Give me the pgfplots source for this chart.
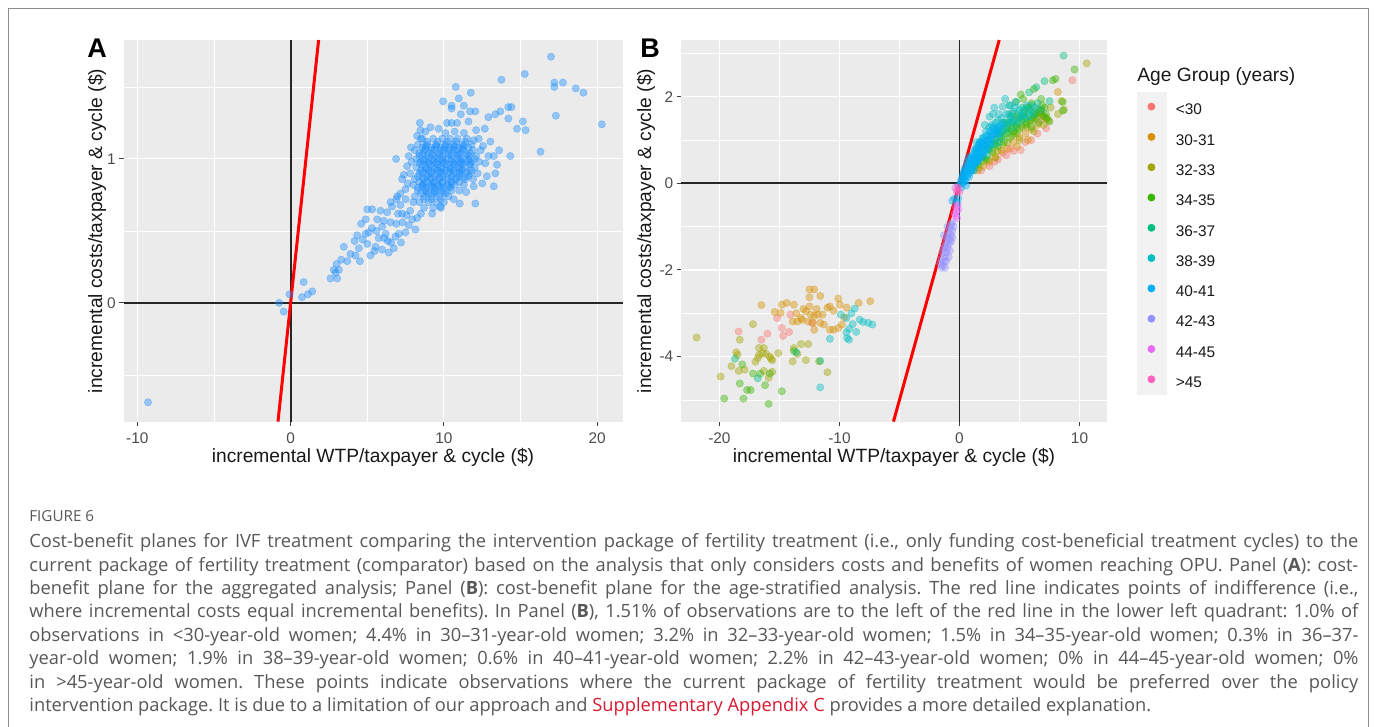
\documentclass[border=0pt]{standalone}
\usepackage{fontspec}
\setmainfont{Liberation Sans}
\newfontfamily\capfont{Open Sans}[Ligatures=TeX]
\usepackage{pgfplots}
\pgfplotsset{compat=1.18}
\frenchspacing
\definecolor{panelbg}{HTML}{EBEBEB}
\definecolor{keybg}{HTML}{F2F2F2}
\definecolor{ticklab}{HTML}{4D4D4D}
\definecolor{framegray}{HTML}{8C8C8C}
\definecolor{capgray}{RGB}{88,88,90}
\definecolor{linkred}{RGB}{215,25,50}
\definecolor{dodger}{RGB}{30,144,255}
\definecolor{c1}{HTML}{F8766D}
\definecolor{c2}{HTML}{D89000}
\definecolor{c3}{HTML}{A3A500}
\definecolor{c4}{HTML}{39B600}
\definecolor{c5}{HTML}{00BF7D}
\definecolor{c6}{HTML}{00BFC4}
\definecolor{c7}{HTML}{00B0F6}
\definecolor{c8}{HTML}{9590FF}
\definecolor{c9}{HTML}{E76BF3}
\definecolor{c10}{HTML}{FF62BC}

\pgfplotsset{
  ggtheme/.style={
    scale only axis,
    axis background/.style={fill=panelbg},
    axis line style={draw=none},
    grid=both,
    major grid style={draw=white, line width=0.55pt},
    minor grid style={draw=white, line width=0.28pt},
    tick align=outside, tick pos=left,
    major tick length=2.2pt, minor tick length=0pt,
    tick style={black!75, line width=0.5pt},
    tick label style={font=\fontsize{7.7}{8}\selectfont, text=ticklab},
    yticklabel style={inner sep=1.5pt},
    /pgf/number format/assume math mode=true,
  },
  pts/.style={only marks, mark=*, mark size=1.85pt,
    mark options={fill opacity=0.42, draw opacity=0.45, line width=0.2pt}},
  zero/.style={black!85, line width=0.9pt},
  diag/.style={red, line width=1.5pt},
}

\begin{document}
\begin{tikzpicture}
\begin{scope}[x=0.5pt,y=0.5pt]
\useasboundingbox (0,0) rectangle (1375,727);
\fill[white] (0,0) rectangle (1375,727);
\draw[framegray, line width=0.6pt] (8.5,-13) -- (8.5,718.5) -- (1368.5,718.5) -- (1368.5,-13);
\fill[keybg] (1137,635) rectangle (1167,332);
\end{scope}

% ---------- Panel A ----------
\begin{axis}[ggtheme, at={(61.75pt,152.7pt)}, anchor=south west,
  width=249.75pt, height=190.8pt,
  xmin=-10.9, xmax=21.68, ymin=-0.824, ymax=1.826,
  xtick={-10,0,10,20}, ytick={0,1},
  minor xtick={-5,5,15}, minor ytick={-0.5,0.5,1.5}]

\addplot[pts, dodger] coordinates {
 (0.85,0.145) (-0.07,0.06) (-0.75,0.0) (-0.45,-0.06) (0.74,0.04) (1.13,0.06) (1.41,0.08) (-9.3,-0.69)
 (2.6,0.17) (3.04,0.17) (2.93,0.21) (2.82,0.23) (3.15,0.23) (3.0,0.27) (3.3,0.3) (3.47,0.39)
 (3.69,0.29) (4.23,0.33) (4.52,0.29) (4.17,0.43) (4.34,0.47) (4.45,0.38) (4.89,0.48) (5.1,0.49)
 (5.0,0.41) (5.54,0.39) (5.47,0.36) (5.97,0.37) (6.34,0.43) (6.73,0.38) (6.4,0.35) (5.75,0.45)
 (5.65,0.58) (5.97,0.53) (6.08,0.57) (6.52,0.56) (6.84,0.46) (7.06,0.48) (7.49,0.49) (7.71,0.54)
 (8.14,0.51) (7.93,0.58) (8.25,0.59) (7.27,0.62) (7.56,0.61) (7.16,0.68) (6.62,0.67) (6.3,0.63)
 (5.86,0.64) (5.32,0.65) (5.0,0.65) (4.6,0.55) (4.9,0.58) (5.3,0.52) (6.2,0.48) (6.9,0.55)
 (7.3,0.56) (7.0,0.62) (7.8,0.64) (8.5,0.62) (8.0,0.7) (7.5,0.72) (6.9,0.72) (6.1,0.45)
 (5.6,0.5) (4.7,0.44) (3.9,0.34) (5.2,0.33) (6.55,0.42) (7.2,0.42)
 (6.52,0.70) (6.95,0.74) (7.16,0.76) (7.38,0.89) (7.27,0.86) (7.64,0.83) (7.5,0.79)
 (8.6,1.14) (9.3,1.14) (9.9,1.14) (10.4,1.14) (10.9,1.14) (11.5,1.14)
 (8.3,1.10) (8.9,1.10) (9.5,1.10) (10.1,1.10) (10.6,1.10) (11.2,1.10) (11.8,1.10)
 (8.1,1.06) (8.7,1.06) (9.2,1.06) (9.8,1.06) (10.3,1.06) (10.8,1.06) (11.3,1.06) (11.9,1.06) (12.4,1.06)
 (8.4,1.02) (8.9,1.02) (9.4,1.02) (9.9,1.02) (10.5,1.02) (11.0,1.02) (11.6,1.02) (12.1,1.02)
 (7.9,0.98) (8.5,0.98) (9.0,0.98) (9.6,0.98) (10.1,0.98) (10.7,0.98) (11.2,0.98) (11.8,0.98) (12.3,0.98)
 (8.2,0.94) (8.8,0.94) (9.3,0.94) (9.8,0.94) (10.4,0.94) (10.9,0.94) (11.4,0.94) (12.0,0.94)
 (7.8,0.90) (8.4,0.90) (9.0,0.90) (9.5,0.90) (10.0,0.90) (10.6,0.90) (11.1,0.90) (11.7,0.90) (12.2,0.90)
 (8.1,0.86) (8.7,0.86) (9.2,0.86) (9.7,0.86) (10.3,0.86) (10.8,0.86) (11.4,0.86) (11.9,0.86)
 (8.0,0.82) (8.6,0.82) (9.1,0.82) (9.6,0.82) (10.2,0.82) (10.7,0.82) (11.3,0.82)
 (8.3,0.78) (8.8,0.78) (9.4,0.78) (9.9,0.78) (10.5,0.78) (11.0,0.78)
 (8.1,0.74) (8.7,0.74) (9.2,0.74) (9.7,0.74) (10.3,0.74)
 (8.4,0.70) (9.0,0.70) (9.5,0.70) (10.0,0.70)
 (8.7,0.66) (9.3,0.66) (9.8,0.66)
 (8.9,1.12) (9.6,1.12) (10.2,1.12) (10.8,1.12) (11.4,1.12)
 (8.6,1.08) (9.2,1.08) (9.8,1.08) (10.4,1.08) (11.0,1.08) (11.6,1.08)
 (8.4,1.04) (9.0,1.04) (9.6,1.04) (10.1,1.04) (10.6,1.04) (11.1,1.04) (11.7,1.04)
 (8.2,1.00) (8.8,1.00) (9.3,1.00) (9.8,1.00) (10.3,1.00) (10.9,1.00) (11.4,1.00) (12.0,1.00)
 (8.6,0.96) (9.1,0.96) (9.6,0.96) (10.2,0.96) (10.7,0.96) (11.2,0.96) (11.7,0.96)
 (8.5,0.92) (9.0,0.92) (9.6,0.92) (10.1,0.92) (10.6,0.92) (11.2,0.92) (11.8,0.92)
 (8.3,0.88) (8.9,0.88) (9.4,0.88) (9.9,0.88) (10.5,0.88) (11.0,0.88) (11.6,0.88)
 (8.4,0.84) (8.9,0.84) (9.4,0.84) (9.9,0.84) (10.5,0.84) (11.0,0.84)
 (8.3,0.80) (8.8,0.80) (9.3,0.80) (9.8,0.80) (10.4,0.80)
 (8.5,0.76) (9.0,0.76) (9.5,0.76) (10.1,0.76)
 (8.7,0.72) (9.2,0.72) (9.8,0.72)
 (8.8,1.07) (9.4,1.07) (10.0,1.07) (10.6,1.07) (11.2,1.07)
 (8.7,0.99) (9.3,0.99) (9.9,0.99) (10.5,0.99) (11.1,0.99) (11.6,0.99)
 (8.6,0.91) (9.2,0.91) (9.8,0.91) (10.4,0.91) (11.0,0.91) (11.5,0.91)
 (8.7,0.83) (9.3,0.83) (9.9,0.83) (10.5,0.83)
 (8.8,1.09) (9.5,1.09) (10.1,1.09) (10.7,1.09) (11.3,1.09)
 (8.6,1.03) (9.2,1.03) (9.7,1.03) (10.3,1.03) (10.9,1.03) (11.5,1.03)
 (8.4,0.97) (9.0,0.97) (9.5,0.97) (10.0,0.97) (10.6,0.97) (11.1,0.97) (11.7,0.97)
 (8.8,0.93) (9.4,0.93) (9.9,0.93) (10.4,0.93) (11.0,0.93)
 (8.6,0.87) (9.1,0.87) (9.7,0.87) (10.2,0.87) (10.8,0.87) (11.3,0.87)
 (8.6,0.81) (9.2,0.81) (9.7,0.81) (10.3,0.81)
 (8.9,0.77) (9.4,0.77) (10.0,0.77)
 (8.25,1.16) (8.47,1.20) (8.79,1.19) (9.12,1.22) (9.66,1.21) (8.5,1.14) (11.94,1.13) (12.27,1.14)
 (12.55,1.09) (13.03,1.12) (13.6,1.06) (13.25,1.02) (13.46,0.96) (13.35,0.90) (13.25,0.81) (12.8,0.88)
 (12.5,0.83) (11.94,0.81) (12.05,0.69) (11.45,0.77) (11.03,0.69) (10.64,0.72) (9.77,0.67) (9.23,0.62)
 (12.7,0.97) (12.9,1.02) (7.6,0.95) (7.7,1.02) (7.85,1.08) (10.1,1.18) (10.7,1.19) (11.3,1.18)
 (16.98,1.71) (15.27,1.59) (13.75,1.55) (17.2,1.53) (17.2,1.50) (17.76,1.53) (18.6,1.49) (19.1,1.46)
 (17.3,1.30) (20.3,1.24) (16.3,1.05) (14.33,1.02) (14.2,1.36) (14.4,1.36) (13.68,1.33) (13.35,1.31)
 (12.9,1.29) (14.2,1.28) (15.15,1.26) (14.77,1.21) (15.33,1.20) (12.66,1.21) (10.77,1.50) (11.75,1.46)
 (10.97,1.42) (9.95,1.40) (10.5,1.37) (10.5,1.35) (11.3,1.37) (11.7,1.33) (12.05,1.33) (11.1,1.31)
 (8.43,1.25) (10.2,1.25) (10.5,1.25) (10.86,1.25) (11.6,1.26) (12.1,1.20) (6.88,1.0)
};
\addplot[zero] coordinates {(-10.9,0) (21.68,0)};
\addplot[zero] coordinates {(0,-0.824) (0,1.826)};
\addplot[diag] coordinates {(-0.824,-0.824) (1.826,1.826)};
\end{axis}

% ---------- Panel B ----------
\begin{axis}[ggtheme, at={(340.5pt,152.7pt)}, anchor=south west,
  width=213pt, height=190.8pt,
  xmin=-23.2, xmax=12.29, ymin=-5.50, ymax=3.31,
  xtick={-20,-10,0,10}, ytick={-4,-2,0,2},
  minor xtick={-15,-5,5}, minor ytick={-5,-3,-1,1,3},
  legend style={at={(axis description cs:1,1)}, anchor=north west,
    xshift=20.25pt, yshift=-31.35pt, draw=none, fill=none,
    inner sep=0pt, outer sep=0pt, row sep=9.1pt,
    font=\fontsize{7.7}{8}\selectfont, text=black!90,
    nodes={inner sep=0pt, text height=5.6pt, text depth=0pt},
    /tikz/every odd column/.append style={column sep=10.25pt}},
  legend cell align=left,
  legend image code/.code={\fill[#1] (1.75pt,1.3pt) circle (1.75pt);}]

\addplot[pts, c1] coordinates {
 (1.8,0.3) (2.5,0.4) (3.2,0.55) (3.9,0.65) (4.5,0.75) (5.1,0.77) (5.97,1.0) (6.5,1.15)
 (7.22,1.27) (9.4,2.38) (5.5,0.95) (4.2,0.8) (6.8,1.45) (2.9,0.5) (3.6,0.7)
 (-15.2,-3.11) (-14.1,-3.03) (-18.4,-3.42) (-16.5,-3.61) (-16.0,-3.47) (-14.8,-3.34)
 (-14.7,-3.52) (-14.2,-3.43) (-12.3,-3.22)
};
\addlegendentry{<30}
\addplot[pts, c2] coordinates {
 (1.5,0.3) (2.0,0.4) (2.5,0.5) (3.0,0.6) (3.5,0.75) (4.0,0.8) (4.5,0.95) (5.0,1.05)
 (5.5,1.15) (6.0,1.25) (6.5,1.35) (7.0,1.55) (8.2,2.11) (6.8,1.7) (5.7,1.0) (4.8,0.85)
 (7.4,1.45) (6.3,1.65)
 (-12.5,-2.45) (-12.1,-2.45) (-12.5,-2.63) (-11.6,-2.6) (-16.5,-2.81) (-14.8,-2.8) (-14.4,-2.76)
 (-13.8,-2.8) (-15.4,-2.97) (-14.9,-2.99) (-13.6,-3.0) (-12.5,-2.84) (-12.4,-3.03) (-12.1,-3.06)
 (-11.8,-3.03) (-11.4,-3.03) (-11.0,-2.87) (-10.8,-2.84) (-10.5,-2.94) (-10.1,-2.66) (-9.97,-2.8)
 (-9.4,-2.87) (-8.4,-2.76) (-7.43,-2.72) (-13.9,-3.19) (-13.5,-3.19) (-13.1,-3.15) (-12.6,-3.19)
 (-12.2,-3.22) (-11.6,-3.22) (-11.3,-3.26) (-12.1,-3.38) (-13.2,-3.11) (-10.8,-3.38) (-10.5,-3.38)
 (-10.1,-3.34) (-9.8,-3.26) (-9.6,-3.09) (-12.8,-2.95) (-11.9,-2.9) (-13.0,-2.9)
};
\addlegendentry{30-31}
\addplot[pts, c3] coordinates {
 (1.2,0.3) (1.6,0.35) (2.0,0.5) (2.4,0.55) (2.8,0.7) (3.2,0.75) (3.6,0.9) (4.0,0.95)
 (4.4,1.1) (4.8,1.15) (5.2,1.3) (5.6,1.3) (6.0,1.45) (6.4,1.5) (6.8,1.6) (7.2,1.5)
 (7.6,1.75) (8.2,1.6) (8.7,1.7) (10.6,2.77) (5.0,1.0) (6.2,1.2) (3.0,0.6) (7.0,1.35) (8.5,1.9)
 (-21.9,-3.56) (-17.2,-3.25) (-18.3,-3.61) (-18.6,-3.9) (-18.5,-3.96) (-19.0,-4.22) (-19.9,-4.46)
 (-18.4,-4.33) (-17.9,-4.3) (-16.7,-3.8) (-16.3,-3.8) (-16.4,-3.92) (-16.1,-3.94) (-16.7,-3.96)
 (-16.8,-4.03) (-15.7,-4.05) (-15.6,-4.08) (-15.1,-3.92) (-13.8,-3.8) (-13.2,-3.71) (-12.6,-3.71)
 (-13.5,-3.94) (-13.9,-4.11) (-12.8,-4.08) (-11.7,-4.11) (-11.0,-4.36) (-15.6,-4.35) (-15.9,-4.49)
 (-16.3,-4.33) (-17.0,-4.12) (-15.8,-4.0)
};
\addlegendentry{32-33}
\addplot[pts, c4] coordinates {
 (1.0,0.3) (1.3,0.4) (1.6,0.45) (1.9,0.6) (2.2,0.55) (2.4,0.8) (2.7,0.75) (3.0,1.0)
 (3.2,0.85) (3.5,1.2) (3.7,0.95) (4.0,1.3) (4.2,1.05) (4.5,1.45) (4.6,1.15) (4.7,1.88)
 (4.9,1.55) (5.0,1.25) (5.1,2.05) (5.3,1.65) (5.5,1.35) (5.6,1.75) (5.9,1.45) (6.0,1.85)
 (6.2,2.18) (6.3,1.55) (6.5,1.7) (6.6,1.4) (6.9,1.8) (7.2,1.6) (7.5,1.43) (7.78,2.38)
 (8.0,2.41) (8.6,1.88) (8.61,1.68) (5.3,1.95) (4.4,1.6) (3.8,1.4) (6.8,1.95) (7.0,1.55)
 (2.9,0.9) (5.8,1.6) (9.58,2.63)
 (3.3,1.05) (3.6,1.1) (3.9,1.15) (4.1,1.4) (4.3,1.25) (4.7,1.35) (4.8,1.3) (5.2,1.45)
 (5.4,1.55) (5.6,1.4) (5.8,1.75) (6.1,1.5) (6.4,1.6) (6.7,1.65) (7.1,1.75) (7.3,1.5)
 (6.0,1.3) (5.0,1.5) (4.5,1.2) (3.9,1.25)
 (-19.6,-4.97) (-18.0,-4.97) (-17.7,-4.77) (-17.4,-4.77) (-18.3,-4.62) (-17.2,-4.39) (-16.6,-4.39)
 (-16.2,-4.66) (-15.8,-4.39) (-15.9,-5.09) (-14.8,-4.8) (-13.8,-3.87) (-18.1,-4.18)
};
\addlegendentry{34-35}
\addplot[pts, c5] coordinates {
 (1.2,0.45) (1.5,0.5) (1.8,0.7) (2.0,0.6) (2.2,0.85) (2.5,0.8) (2.7,1.0) (3.0,0.9)
 (3.2,1.2) (3.5,1.05) (3.7,1.4) (4.0,1.2) (4.2,1.55) (4.5,1.3) (4.8,1.6) (5.0,1.4)
 (5.2,1.75) (5.5,1.5) (5.8,1.7) (5.8,2.1) (6.2,1.6) (6.4,2.22) (6.5,1.85) (7.08,2.36)
 (7.5,1.9) (8.67,2.95) (4.17,1.8) (3.3,0.95) (2.3,0.65)
 (2.6,0.9) (3.4,1.15) (4.4,1.4) (5.3,1.6) (6.0,1.8) (6.8,1.7)
 (-16.8,-4.5) (-18.7,-4.05) (-11.6,-4.1) (-13.6,-3.9)
};
\addlegendentry{36-37}
\addplot[pts, c6] coordinates {
 (0.8,0.4) (1.0,0.55) (1.2,0.55) (1.3,0.75) (1.5,0.6) (1.6,0.85) (1.8,0.8) (1.9,1.05)
 (2.0,0.85) (2.2,1.2) (2.3,0.95) (2.5,1.3) (2.5,1.54) (2.6,1.05) (2.8,1.6) (2.8,1.25)
 (3.0,1.4) (3.1,1.15) (3.3,1.6) (3.3,1.3) (3.5,1.5) (3.6,1.77) (3.7,1.25) (3.9,1.6)
 (4.0,1.4) (4.2,1.8) (4.3,1.5) (4.5,1.65) (4.7,1.88) (4.8,1.45) (5.0,1.7) (5.3,1.55)
 (5.6,1.8) (6.0,1.65) (1.4,0.95) (2.1,1.35) (2.9,1.75) (3.8,1.95)
 (1.1,0.6) (1.4,0.7) (1.7,0.95) (2.0,1.0) (2.4,1.1) (2.7,1.35) (3.0,1.2) (3.2,1.45)
 (3.4,1.25) (3.6,1.4) (3.9,1.35) (4.1,1.6) (4.4,1.45) (4.6,1.75) (5.1,1.55) (5.4,1.7)
 (5.8,1.55) (6.3,1.75)
 (-9.89,-3.03) (-9.42,-3.11) (-8.73,-2.89) (-8.31,-3.15) (-8.03,-3.2) (-7.6,-3.22) (-7.26,-3.26)
 (-9.2,-3.36) (-9.42,-3.44) (-10.8,-3.59) (-9.36,-3.57) (-9.2,-3.61) (-8.6,-3.43) (-11.6,-4.71)
 (-9.0,-3.0) (-8.9,-3.25)
};
\addlegendentry{38-39}
\addplot[pts, c7] coordinates {
 (0.1,0.05) (0.2,0.12) (0.3,0.1) (0.3,0.2) (0.4,0.15) (0.4,0.28) (0.5,0.2) (0.5,0.05)
 (0.55,-0.05) (0.6,0.3) (0.6,0.4) (0.7,0.2) (0.7,0.35) (0.8,0.45) (0.8,0.3) (0.9,0.25)
 (0.9,0.55) (1.0,0.4) (1.0,0.6) (1.1,0.35) (1.1,0.5) (1.2,0.7) (1.2,0.45) (1.3,0.6)
 (1.4,0.5) (1.4,0.8) (1.5,0.65) (1.6,0.9) (1.6,0.55) (1.7,0.75) (1.8,0.95) (1.8,0.62)
 (1.9,0.85) (2.0,1.05) (2.0,0.7) (2.1,0.9) (2.2,1.1) (2.3,0.8) (2.4,1.0) (2.5,1.2)
 (2.6,0.9) (2.7,1.1) (2.8,1.3) (3.0,1.05) (3.1,1.25) (3.3,1.15) (3.5,1.35) (0.15,-0.1)
 (0.25,0.0) (-0.1,-0.05) (-0.6,-0.4) (-0.2,-0.45) (-0.4,-0.35) (-0.1,-0.35) (0.35,0.25)
 (0.45,0.35) (0.65,0.5) (0.75,0.6) (0.2,0.02)
 (0.3,0.15) (0.5,0.3) (0.6,0.15) (0.7,0.45) (0.9,0.4) (1.0,0.3) (1.1,0.65) (1.2,0.55)
 (1.3,0.45) (1.3,0.8) (1.5,0.5) (1.5,0.8) (1.7,0.6) (1.7,0.95) (1.9,0.7) (2.0,0.9)
 (2.2,0.75) (2.3,1.0) (2.5,0.95) (2.6,1.15) (2.9,1.15) (3.2,1.3) (0.4,0.05) (0.8,0.15) (1.2,0.3)
};
\addlegendentry{40-41}
\addplot[pts, c8] coordinates {
 (-0.6,-0.9) (-0.7,-0.95) (-0.5,-1.0) (-0.8,-1.05) (-0.6,-1.1) (-0.9,-1.15) (-0.7,-1.2)
 (-1.0,-1.25) (-0.8,-1.3) (-1.1,-1.35) (-0.9,-1.4) (-1.2,-1.45) (-1.0,-1.5) (-1.3,-1.5)
 (-0.8,-1.55) (-1.1,-1.6) (-1.4,-1.6) (-1.2,-1.7) (-0.9,-1.7) (-1.5,-1.75) (-1.3,-1.8)
 (-1.1,-1.8) (-1.6,-1.85) (-1.4,-1.9) (-1.2,-1.95) (-1.5,-1.95) (-0.7,-1.35) (-1.0,-1.0)
 (-0.6,-1.25) (-1.3,-1.2)
};
\addlegendentry{42-43}
\addplot[pts, c9] coordinates {
 (-0.35,-0.1) (-0.2,-0.2) (-0.3,-0.55) (-0.25,-0.65) (-0.3,-0.75) (-0.2,-0.8) (-0.4,-0.7)
 (-0.15,-0.5) (-0.1,-0.6)
};
\addlegendentry{44-45}
\addplot[pts, c10] coordinates {
 (-0.1,-0.1) (0.0,-0.2) (-0.2,-0.15)
};
\addlegendentry{>45}
\addplot[zero, forget plot] coordinates {(-23.2,0) (12.29,0)};
\addplot[zero, forget plot] coordinates {(0,-5.5) (0,3.31)};
\addplot[diag, forget plot] coordinates {(-5.5,-5.5) (3.31,3.31)};
\end{axis}

\begin{scope}[x=0.5pt,y=0.5pt]
% ---------- titles and labels ----------
\begin{scope}[every node/.style={font=\fontsize{9.6}{10}\selectfont, text=black!90}]
\node at (373,270) {incremental WTP/taxpayer \& cycle (\$)};
\node[rotate=90] at (97,496) {incremental costs/taxpayer \& cycle (\$)};
\node at (894,270) {incremental WTP/taxpayer \& cycle (\$)};
\node[rotate=90] at (646,496) {incremental costs/taxpayer \& cycle (\$)};
\node[anchor=west, inner sep=0pt] at (1137,650) {Age Group (years)};
\end{scope}
\node[font=\bfseries\fontsize{13.5}{14}\selectfont] at (97,679) {A};
\node[font=\bfseries\fontsize{13.5}{14}\selectfont] at (650,679) {B};

% ---------- caption ----------
\begin{scope}[every node/.style={anchor=base west, inner sep=0pt, text=capgray,
    font=\capfont\fontsize{9.15}{10}\selectfont}]
\node[font=\capfont\fontsize{7.6}{8}\selectfont] at (29,205) {FIGURE 6};
\node at (29,179.3) {\makebox[664.5pt][s]{Cost-benefit planes for IVF treatment comparing the intervention package of fertility treatment (i.e., only funding cost-beneficial treatment cycles) to the}};
\node at (29,155.9) {\makebox[664.5pt][s]{current package of fertility treatment (comparator) based on the analysis that only considers costs and benefits of women reaching OPU. Panel (\textbf{A}): cost-}};
\node at (29,132.5) {\makebox[664.5pt][s]{benefit plane for the aggregated analysis; Panel (\textbf{B}): cost-benefit plane for the age-stratified analysis. The red line indicates points of indifference (i.e.,}};
\node at (29,109.1) {\makebox[664.5pt][s]{where incremental costs equal incremental benefits). In Panel (\textbf{B}), 1.51\% of observations are to the left of the red line in the lower left quadrant: 1.0\% of}};
\node at (29,85.7) {\makebox[664.5pt][s]{observations in <30-year-old women; 4.4\% in 30--31-year-old women; 3.2\% in 32--33-year-old women; 1.5\% in 34--35-year-old women; 0.3\% in 36--37-}};
\node at (29,62.3) {\makebox[664.5pt][s]{year-old women; 1.9\% in 38--39-year-old women; 0.6\% in 40--41-year-old women; 2.2\% in 42--43-year-old women; 0\% in 44--45-year-old women; 0\%}};
\node at (29,38.9) {\makebox[664.5pt][s]{in >45-year-old women. These points indicate observations where the current package of fertility treatment would be preferred over the policy}};
\node at (29,15.5) {intervention package. It is due to a limitation of our approach and \textcolor{linkred}{Supplementary Appendix C} provides a more detailed explanation.};
\end{scope}
\end{scope}
\end{tikzpicture}
\end{document}
